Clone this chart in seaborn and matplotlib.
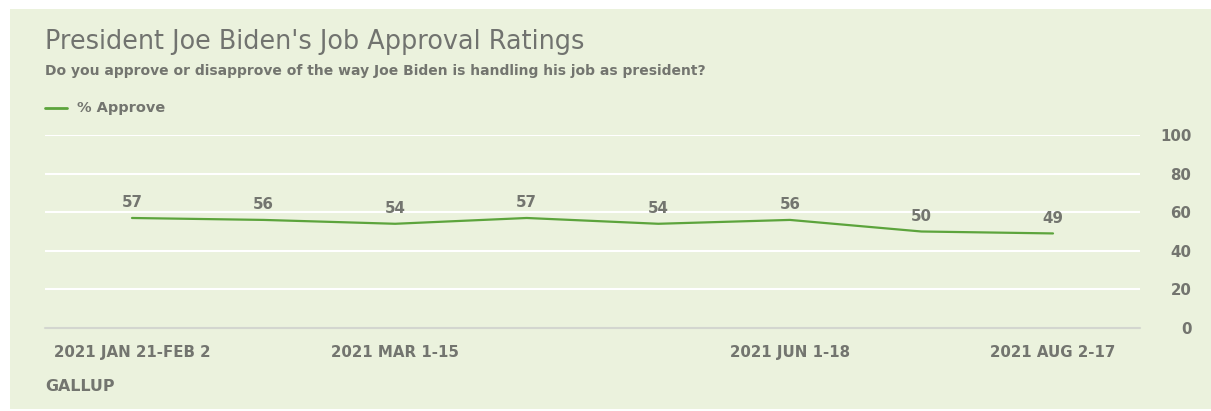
import matplotlib
matplotlib.use("Agg")
import matplotlib.pyplot as plt
import seaborn as sns
import pandas as pd
from matplotlib.patches import Rectangle

# ---- data ----
periods = ["2021 JAN 21-FEB 2", "2021 FEB 3-18", "2021 MAR 1-15", "2021 APR 1-21",
           "2021 MAY 3-18", "2021 JUN 1-18", "2021 JUL 6-21", "2021 AUG 2-17"]
approve = [57, 56, 54, 57, 54, 56, 50, 49]
labeled_periods = ["2021 JAN 21-FEB 2", "2021 MAR 1-15", "2021 JUN 1-18", "2021 AUG 2-17"]
y_ticks = [0, 20, 40, 60, 80, 100]

title = "President Joe Biden's Job Approval Ratings"
subtitle = "Do you approve or disapprove of the way Joe Biden is handling his job as president?"
series_name = "% Approve"
source = "GALLUP"

# ---- style ----
sns.set_theme(style="white")
FONT = ["DejaVu Sans"]
plt.rcParams["font.family"] = FONT

W, H = 1211, 411
BG = "#ebf2dd"
GREEN = "#5ca43c"
GRAY = "#73756f"
TITLE_GRAY = "#71736f"

fig = plt.figure(figsize=(W / 100, H / 100), dpi=100)
fig.patch.set_facecolor("white")
fig.patches.append(Rectangle((10 / W, 2 / H), 1 - 10 / W, (H - 9 - 2) / H,
                             transform=fig.transFigure, facecolor=BG,
                             edgecolor="none", zorder=-10))

def fx(px):
    return px / W

def fy(py):
    return 1 - py / H

renderer = fig.canvas.get_renderer()

def fit(t, target_px):
    w = t.get_window_extent(renderer).width
    t.set_fontsize(t.get_fontsize() * target_px / w)
    return t

# axes: x 45..1140, y 135..328
ax = fig.add_axes([fx(45), fy(328), fx(1140) - fx(45), fy(135) - fy(328)])
ax.set_facecolor("none")
ax.set_zorder(2)

df = pd.DataFrame({"period": periods, "approve": approve, "series": series_name})
df["idx"] = range(len(df))

sns.lineplot(data=df, x="idx", y="approve", ax=ax, color=GREEN, linewidth=1.6,
             legend=False, clip_on=False, zorder=3)

probe = fig.text(0, 0, labeled_periods[0], fontsize=10, fontweight="bold")
fit(probe, 158)
LBL = probe.get_fontsize()
probe.remove()

for i, v in zip(df["idx"], df["approve"]):
    ax.annotate(str(v), (i, v), xytext=(0, 11), textcoords="offset points",
                ha="center", va="center", fontsize=LBL, fontweight="bold",
                color=GRAY)

step = (1053 - 132) / 7
ax.set_xlim((45 - 132) / step, (1140 - 132) / step)
ax.set_ylim(0, 100)

pos = [periods.index(p) for p in labeled_periods]
ax.set_xticks(pos)
ax.set_xticklabels(labeled_periods, fontsize=LBL, fontweight="bold", color=GRAY)
ax.tick_params(axis="x", length=7, width=1.5, color="white", pad=5, direction="out")

ax.yaxis.tick_right()
ax.set_yticks(y_ticks)
ax.set_yticklabels([str(t) for t in y_ticks], fontsize=LBL, fontweight="bold",
                   color=GRAY, ha="right")
ax.tick_params(axis="y", length=0, pad=37)

ax.grid(axis="y", color="white", linewidth=1.5)
ax.grid(axis="x", visible=False)
for s in ax.spines.values():
    s.set_visible(False)
ax.axhline(0, color="#d3d6cf", linewidth=1.5, zorder=2, clip_on=False)
ax.set_xlabel("")
ax.set_ylabel("")

# header texts
fit(fig.text(fx(45), fy(42), title, fontsize=15, color=TITLE_GRAY, va="center", ha="left"), 540)
fit(fig.text(fx(45), fy(71), subtitle, fontsize=9, fontweight="bold", color=GRAY,
             va="center", ha="left"), 660)
fig.lines.append(plt.Line2D([fx(45), fx(67)], [fy(108), fy(108)], transform=fig.transFigure,
                            color=GREEN, linewidth=2))
fit(fig.text(fx(77), fy(108), series_name, fontsize=10, fontweight="bold", color=GRAY,
             va="center", ha="left"), 88)
fit(fig.text(fx(45), fy(386), source, fontsize=9.5, fontweight="bold", color=GRAY,
             va="center", ha="left"), 70)

fig.savefig("out.png", dpi=100, facecolor="white")
